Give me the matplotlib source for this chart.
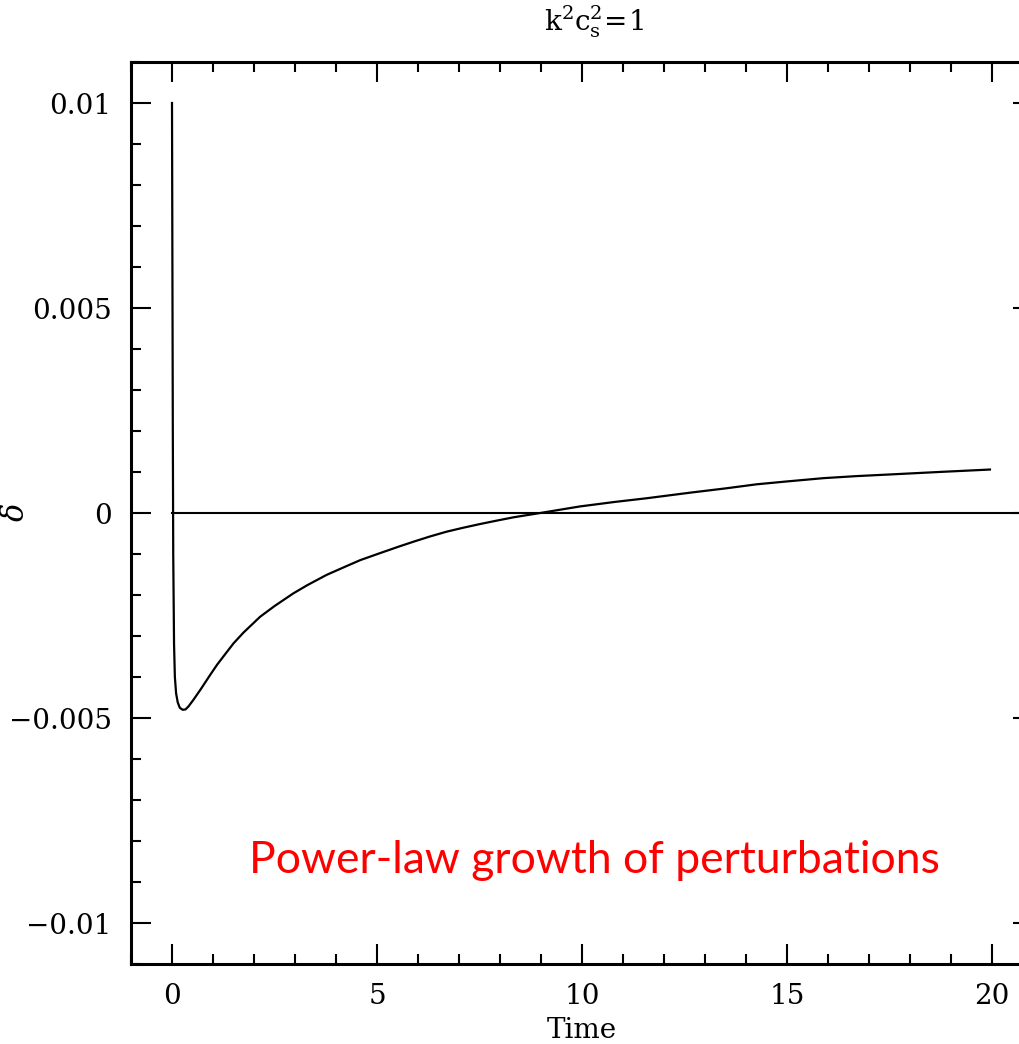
import matplotlib
matplotlib.use("Agg")
import matplotlib.pyplot as plt
from matplotlib.ticker import MultipleLocator, FixedLocator, FixedFormatter

# Data
time = [0.0, 0.01, 0.02, 0.03, 0.05, 0.07, 0.10, 0.14, 0.19, 0.26, 0.33,
        0.40, 0.52, 0.70, 0.93, 1.10, 1.33, 1.50, 1.74, 2.15, 2.50, 2.96,
        3.30, 3.77, 4.20, 4.59, 5.07, 5.56, 5.89, 6.30, 6.70, 7.10, 7.51,
        7.90, 8.33, 8.98, 9.95, 10.80, 11.58, 12.63, 13.50, 14.26, 15.00,
        15.89, 16.70, 17.51, 18.70, 19.95]
delta = [0.0100, 0.0060, 0.0020, -0.0010, -0.0032, -0.0040, -0.00440,
         -0.00462, -0.00475, -0.00480, -0.00479, -0.00472, -0.00456, -0.00430,
         -0.00395, -0.00370, -0.00340, -0.00318, -0.00292, -0.00253, -0.00227,
         -0.00196, -0.00176, -0.00151, -0.00132, -0.00115, -0.00098, -0.00081,
         -0.00070, -0.00057, -0.000455, -0.00036, -0.00027, -0.00019,
         -0.000105, 0.0, 0.00016, 0.00027, 0.00036, 0.000495, 0.00060,
         0.00070, 0.00077, 0.00085, 0.00090, 0.00094, 0.00100, 0.00106]
zero_t = [0.0, 21.0]
zero_d = [0.0, 0.0]

xticks = [0, 5, 10, 15, 20]
xticklabels = ["0", "5", "10", "15", "20"]
yticks = [-0.01, -0.005, 0.0, 0.005, 0.01]
yticklabels = ["\u22120.01", "\u22120.005", "0", "0.005", "0.01"]

W, H = 1019, 1044
fig = plt.figure(figsize=(W / 100, H / 100), dpi=100)
plt.rcParams["mathtext.fontset"] = "dejavuserif"

ax = fig.add_axes([131 / W, 1 - 964 / H, 902 / W, 902 / H])
ax.plot(time, delta, color="black", lw=1.6, solid_joinstyle="round")
ax.plot(zero_t, zero_d, color="black", lw=1.5)
ax.set_xlim(-1, 21)
ax.set_ylim(-0.011, 0.011)

ax.xaxis.set_major_locator(FixedLocator(xticks))
ax.xaxis.set_major_formatter(FixedFormatter(xticklabels))
ax.xaxis.set_minor_locator(MultipleLocator(1))
ax.yaxis.set_major_locator(FixedLocator(yticks))
ax.yaxis.set_major_formatter(FixedFormatter(yticklabels))
ax.yaxis.set_minor_locator(MultipleLocator(0.001))

for s in ax.spines.values():
    s.set_linewidth(2.2)
ax.tick_params(which="both", direction="in", top=True, right=True,
               width=1.5, colors="black")
ax.tick_params(which="major", length=14.5, pad=14, labelsize=20)
ax.tick_params(which="minor", length=7.2)
for lab in ax.get_xticklabels() + ax.get_yticklabels():
    lab.set_family("DejaVu Serif")

ax.set_xlabel("Time", fontsize=20, family="DejaVu Serif", labelpad=5)
ax.set_ylabel(r"$\delta$", fontsize=22)
ax.yaxis.set_label_coords((30 - 131) / 902, 0.5)

fig.text(594 / W, 1 - 22 / H, r"$\mathrm{k^2c_s^2\!=\!1}$", ha="center",
         va="center", fontsize=20)
fig.text(249 / W, 1 - 873 / H, "Power-law growth of perturbations",
         color="#ff0000", fontsize=32, family="Lato", ha="left", va="baseline")

fig.savefig("out.png", dpi=100)
